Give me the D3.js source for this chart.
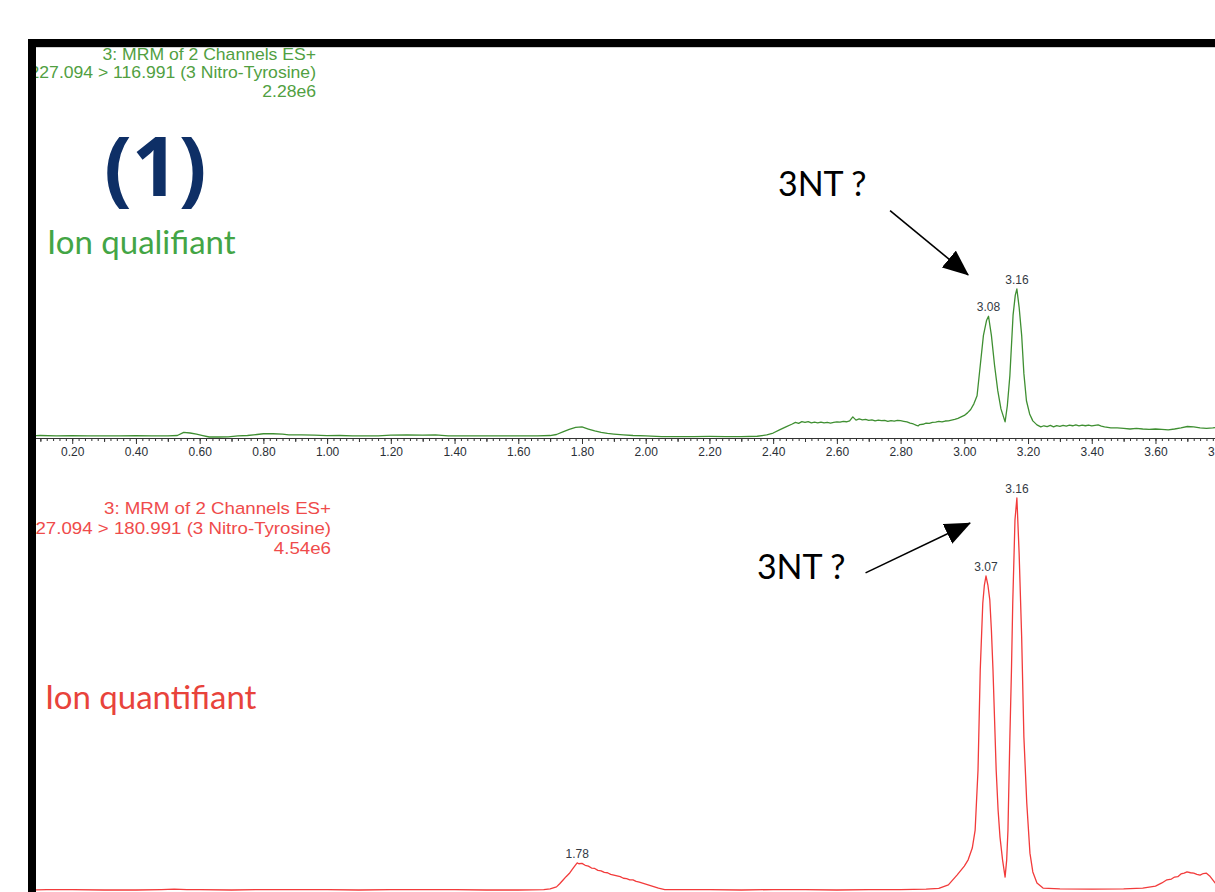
<!DOCTYPE html>
<html>
<head>
<meta charset="utf-8">
<script src="https://cdnjs.cloudflare.com/ajax/libs/d3/7.8.5/d3.min.js"></script>
<style>
body { margin: 0; background: #fff; }
</style>
</head>
<body>
<div id="chart"></div>
<script>
// chromatogram traces: [retention time (min), relative intensity (%)]
var qualifierTrace = [
    [0.05, 0.7], [0.10, 1.0], [0.15, 0.7], [0.20, 0.9], [0.25, 0.7], [0.30, 0.8], [0.35, 0.7], [0.40, 0.9],
    [0.45, 0.7], [0.50, 0.8], [0.53, 1.0], [0.55, 3.1], [0.57, 2.7], [0.59, 2.0], [0.61, 1.0], [0.63, 0],
    [0.66, 0], [0.69, 0.1], [0.72, 0.7], [0.75, 1.0], [0.78, 1.7], [0.80, 2.2], [0.83, 2.2], [0.86, 2.0],
    [0.88, 1.5], [0.92, 1.4], [0.96, 1.2], [1.00, 0.9], [1.04, 1.0], [1.08, 0.7], [1.12, 0.8], [1.16, 0.7],
    [1.20, 1.2], [1.25, 1.4], [1.30, 1.2], [1.34, 1.4], [1.38, 0.8], [1.42, 0.7], [1.48, 0.8], [1.54, 0.7],
    [1.60, 0.8], [1.66, 0.7], [1.70, 1.0], [1.72, 1.7], [1.74, 3.4], [1.76, 5.1], [1.78, 6.5], [1.80, 6.8],
    [1.82, 5.4], [1.84, 4.1], [1.86, 3.1], [1.88, 2.4], [1.90, 2.0], [1.93, 1.5], [1.96, 1.0], [2.00, 0.7],
    [2.05, 0.3], [2.10, 0.3], [2.15, 0.3], [2.20, 0.4], [2.25, 0.3], [2.30, 0.3], [2.35, 0.5], [2.38, 1.4],
    [2.40, 2.7], [2.42, 4.8], [2.44, 6.8], [2.46, 8.8], [2.47, 9.9], [2.48, 9.2], [2.49, 10.4], [2.50, 9.8],
    [2.51, 10.4], [2.52, 9.5], [2.53, 10.0], [2.54, 9.6], [2.55, 10.1], [2.56, 9.5], [2.57, 9.9], [2.58, 9.4],
    [2.59, 9.9], [2.60, 10.2], [2.61, 10.0], [2.62, 10.6], [2.63, 10.3], [2.64, 10.9], [2.65, 13.6], [2.66, 11.4],
    [2.67, 12.2], [2.68, 11.6], [2.69, 11.9], [2.70, 11.2], [2.71, 11.6], [2.72, 10.9], [2.73, 11.4], [2.74, 11.0],
    [2.75, 11.3], [2.76, 10.5], [2.77, 11.0], [2.78, 10.7], [2.79, 11.3], [2.80, 11.0], [2.81, 10.6], [2.82, 10.2],
    [2.83, 9.4], [2.84, 8.8], [2.85, 7.8], [2.855, 7.5], [2.86, 8.4], [2.87, 8.6], [2.88, 9.3], [2.89, 9.2],
    [2.90, 9.9], [2.91, 10.0], [2.92, 10.5], [2.93, 10.2], [2.94, 10.8], [2.95, 10.9], [2.96, 11.4], [2.97, 11.9],
    [2.98, 12.6], [2.99, 13.6], [3.00, 14.6], [3.01, 16.3], [3.02, 18.6], [3.03, 22.4], [3.04, 27.9], [3.05, 48.3],
    [3.06, 68.7], [3.07, 78.9], [3.076, 81.6],
    [3.085, 68.7], [3.095, 48.3], [3.105, 31.3], [3.115, 19.0], [3.128, 10.2], [3.135, 21.1], [3.143, 41.5],
    [3.153, 82.3], [3.160, 95.9], [3.165, 100], [3.172, 87.8], [3.180, 68.7], [3.187, 42.8], [3.195, 24.5],
    [3.205, 15.6], [3.215, 10.9], [3.228, 8.2], [3.24, 6.8], [3.25, 7.6], [3.26, 7.0], [3.27, 7.8], [3.28, 6.8],
    [3.29, 7.7], [3.30, 7.2], [3.31, 7.9], [3.32, 7.4], [3.33, 8.0], [3.34, 7.6], [3.35, 8.2], [3.36, 7.5],
    [3.37, 8.0], [3.38, 7.6], [3.39, 8.1], [3.40, 7.5], [3.41, 7.9], [3.42, 8.2], [3.43, 7.4], [3.44, 6.8],
    [3.46, 6.1], [3.48, 6.1], [3.50, 5.8], [3.52, 5.4], [3.54, 5.8], [3.56, 5.4], [3.58, 5.1], [3.60, 5.4],
    [3.62, 5.1], [3.64, 4.8], [3.66, 5.4], [3.68, 6.1], [3.70, 7.1], [3.72, 6.8], [3.74, 6.1], [3.76, 5.8],
    [3.78, 6.1], [3.80, 6.8]
];

var quantifierTrace = [
    [0.05, 0], [0.12, 0.1], [0.20, 0.1], [0.30, 0], [0.40, 0], [0.48, 0.1], [0.52, 0.2], [0.56, 0.1],
    [0.60, 0.1], [0.70, 0], [0.80, 0.1], [0.90, 0.1], [1.00, 0.1], [1.10, 0], [1.20, 0.1], [1.30, 0.1],
    [1.40, 0.1], [1.50, 0], [1.60, 0], [1.68, 0.1], [1.70, 0.3], [1.72, 0.8], [1.73, 1.6], [1.74, 2.5],
    [1.75, 3.4], [1.76, 4.2], [1.77, 5.3], [1.78, 6.4], [1.785, 6.9], [1.79, 6.7], [1.80, 6.8], [1.81, 6.3],
    [1.82, 6.1], [1.83, 5.6], [1.84, 5.5], [1.85, 5.0], [1.86, 4.9], [1.87, 4.5], [1.88, 4.4], [1.89, 4.0],
    [1.90, 3.8], [1.91, 3.6], [1.92, 3.4], [1.93, 3.0], [1.94, 2.9], [1.95, 2.6], [1.96, 2.6], [1.97, 2.2],
    [1.98, 2.0], [2.00, 1.5], [2.02, 1.0], [2.04, 0.5],
    [2.06, 0.1], [2.10, 0.1], [2.20, 0.1], [2.30, 0], [2.40, 0.1], [2.50, 0.1], [2.60, 0], [2.70, 0.1],
    [2.80, 0.1], [2.88, 0.2], [2.92, 0.4], [2.95, 1.3], [2.977, 3.8], [3.00, 6.1], [3.012, 7.7], [3.025, 10.7],
    [3.034, 15.3], [3.043, 30.6], [3.05, 56.1], [3.058, 73.2], [3.063, 77.8], [3.068, 80.1], [3.074, 77.8],
    [3.08, 74.0], [3.085, 66.3], [3.09, 56.1], [3.10, 30.6], [3.106, 20.4], [3.112, 13.5], [3.12, 7.7],
    [3.128, 3.3], [3.133, 7.7], [3.137, 15.3], [3.143, 39.0], [3.148, 56.1], [3.152, 73.2], [3.159, 94.4],
    [3.165, 100], [3.172, 86.0], [3.18, 64.5], [3.187, 39.0], [3.196, 22.2], [3.206, 9.4], [3.215, 4.6],
    [3.228, 1.8], [3.247, 0.5], [3.30, 0.3], [3.40, 0.2], [3.50, 0.3], [3.56, 0.5], [3.60, 1.0], [3.62, 1.8],
    [3.636, 2.6], [3.65, 2.8], [3.66, 3.3], [3.67, 3.4], [3.68, 4.1], [3.69, 4.3], [3.699, 4.6], [3.71, 4.4],
    [3.72, 4.3], [3.73, 4.0], [3.74, 3.8], [3.75, 4.2], [3.76, 4.3], [3.77, 3.6], [3.787, 1.8], [3.80, 1.3]
];

// labelled peaks (retention time as printed)
var qualifierPeaks = ["3.08", "3.16"];
var quantifierPeaks = ["1.78", "3.07", "3.16"];

// header lines of each trace
var qualifierHeader = ["3: MRM of 2 Channels ES+", "227.094 > 116.991 (3 Nitro-Tyrosine)", "2.28e6"];
var quantifierHeader = ["3: MRM of 2 Channels ES+", "227.094 > 180.991 (3 Nitro-Tyrosine)", "4.54e6"];

// time axis labels
var timeTicks = [0.2, 0.4, 0.6, 0.8, 1.0, 1.2, 1.4, 1.6, 1.8, 2.0, 2.2, 2.4, 2.6, 2.8, 3.0, 3.2, 3.4, 3.6, 3.8];

// "3NT ?" callouts in data units: [text time, text value, arrow start time, start value, arrow end time, end value]
var qualifierCallout = [2.415, 163, 2.767, 153, 3.012, 109.5];
var quantifierCallout = [2.349, 79.3, 2.69, 80.9, 3.018, 93.6];

var width = 1215, height = 892;
var greenLine = "#3f8f32", greenText = "#519f42", greenLabel = "#43a545";
var redLine = "#f23b3b", redText = "#ef4b4b", redLabel = "#e8433b";
var sansFont = "'Liberation Sans', Arial, sans-serif";

var svg = d3.select("#chart").append("svg")
    .attr("width", width)
    .attr("height", height);

var x = d3.scaleLinear().domain([0, 3.8]).range([8.5, 1219.2]);
var yGreen = d3.scaleLinear().domain([0, 100]).range([437, 289]);
var yRed = d3.scaleLinear().domain([0, 100]).range([890, 498]);

var defs = svg.append("defs");
defs.append("clipPath").attr("id", "plotclip")
    .append("rect")
    .attr("x", 36).attr("y", 47)
    .attr("width", width - 36).attr("height", height - 47);

defs.append("marker")
    .attr("id", "head")
    .attr("viewBox", "0 0 26 22")
    .attr("markerUnits", "userSpaceOnUse")
    .attr("markerWidth", 26).attr("markerHeight", 22)
    .attr("refX", 25).attr("refY", 11)
    .attr("orient", "auto")
    .append("path")
    .attr("d", "M0,0L26,11L0,22Z")
    .attr("fill", "#000");

var plot = svg.append("g").attr("clip-path", "url(#plotclip)");

// time axis under the qualifier trace
var axisY = 438;
var axisG = plot.append("g").attr("transform", "translate(0," + axisY + ")");

axisG.append("g")
    .call(d3.axisBottom(x).tickValues(d3.range(0.02, 3.81, 0.02)).tickSize(3).tickSizeOuter(0).tickFormat(""));
axisG.append("g")
    .call(d3.axisBottom(x).tickValues(d3.range(0.1, 3.81, 0.2)).tickSize(4).tickSizeOuter(0).tickFormat(""));
axisG.append("g")
    .call(d3.axisBottom(x).tickValues(timeTicks).tickSize(6).tickSizeOuter(0).tickPadding(3).tickFormat(d3.format(".2f")));

axisG.selectAll("path.domain").attr("stroke", "#333");
axisG.selectAll(".tick line").attr("stroke", "#333");
axisG.selectAll(".tick text")
    .attr("fill", "#2b2f36")
    .style("font-family", sansFont)
    .style("font-size", "12px");

function drawTrace(trace, y, color) {
    var line = d3.line()
        .x(d => x(d[0]))
        .y(d => y(d[1]));
    plot.append("path")
        .datum(trace)
        .attr("d", line)
        .attr("fill", "none")
        .attr("stroke", color)
        .attr("stroke-width", 1.3)
        .attr("stroke-linejoin", "round");
}

function drawPeakLabels(trace, y, peaks) {
    peaks.forEach(function (label) {
        var t = +label;
        var near = trace.filter(d => Math.abs(d[0] - t) <= 0.03);
        var top = near.reduce((a, b) => (b[1] > a[1] ? b : a));
        plot.append("text")
            .attr("x", x(top[0]))
            .attr("y", y(top[1]) - 5)
            .attr("text-anchor", "middle")
            .attr("fill", "#343a44")
            .style("font-family", sansFont)
            .style("font-size", "12px")
            .text(label);
    });
}

function drawHeader(lines, right, baselines, size, color) {
    var g = plot.append("g").attr("transform", "translate(" + right + ",0) scale(1.1,1)");
    g.selectAll("text")
        .data(lines)
        .enter().append("text")
        .attr("x", 0)
        .attr("y", (d, i) => baselines[i])
        .attr("text-anchor", "end")
        .attr("fill", color)
        .style("font-family", sansFont)
        .style("font-size", size + "px")
        .text(d => d);
}

function drawCallout(c, y) {
    svg.append("line")
        .attr("x1", x(c[2])).attr("y1", y(c[3]))
        .attr("x2", x(c[4])).attr("y2", y(c[5]))
        .attr("stroke", "#000")
        .attr("stroke-width", 1.6)
        .attr("marker-end", "url(#head)");
    svg.append("text")
        .attr("x", x(c[0]))
        .attr("y", y(c[1]))
        .attr("fill", "#000")
        .style("font-family", "Lato, sans-serif")
        .style("font-size", "34px")
        .text("3NT ?");
}

drawTrace(qualifierTrace, yGreen, greenLine);
drawTrace(quantifierTrace, yRed, redLine);
drawPeakLabels(qualifierTrace, yGreen, qualifierPeaks);
drawPeakLabels(quantifierTrace, yRed, quantifierPeaks);
drawHeader(qualifierHeader, 316, [60.5, 78.5, 97], 16, greenText);
drawHeader(quantifierHeader, 331, [514, 534, 554], 17, redText);
drawCallout(qualifierCallout, yGreen);
drawCallout(quantifierCallout, yRed);

// panel titles
svg.append("text")
    .attr("x", 104).attr("y", 196)
    .attr("fill", "#0e2f66")
    .style("font-family", "'Open Sans', sans-serif")
    .style("font-weight", "bold")
    .style("font-size", "82px")
    .text("(1)");

svg.append("text")
    .attr("x", 47).attr("y", 254)
    .attr("fill", greenLabel)
    .style("font-family", "Lato, sans-serif")
    .style("font-size", "33px")
    .text("Ion qualifiant");

svg.append("text")
    .attr("x", 45).attr("y", 709)
    .attr("fill", redLabel)
    .style("font-family", "Lato, sans-serif")
    .style("font-size", "33px")
    .text("Ion quantifiant");

// thick black frame on top and left
svg.append("line")
    .attr("x1", 36).attr("x2", width)
    .attr("y1", 47.5).attr("y2", 47.5)
    .attr("stroke", "#d0d0d0");
svg.append("rect")
    .attr("x", 28).attr("y", 39)
    .attr("width", width - 28).attr("height", 8)
    .attr("fill", "#000");
svg.append("rect")
    .attr("x", 28).attr("y", 39)
    .attr("width", 8).attr("height", height - 39)
    .attr("fill", "#000");
</script>
</body>
</html>
